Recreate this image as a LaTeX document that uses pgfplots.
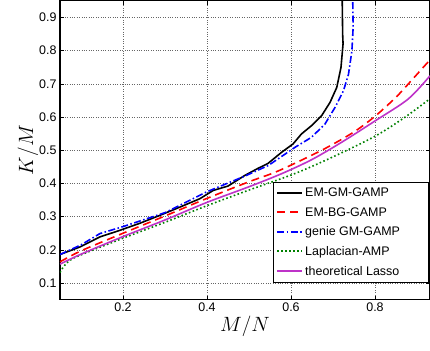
\documentclass[border=0pt]{standalone}
\usepackage{pgfplots}
\pgfplotsset{compat=1.18}
\usepackage{fontspec}
\setmainfont{Liberation Sans}
\definecolor{mgreen}{RGB}{0,128,0}
\definecolor{mmag}{RGB}{190,50,200}
\begin{document}
\begin{tikzpicture}
\begin{axis}[
  scale only axis,
  width=370bp, height=299bp,
  xmin=0.05, xmax=0.931, ymin=0.05, ymax=0.95,
  xtick={0.2,0.4,0.6,0.8}, ytick={0.1,0.2,0.3,0.4,0.5,0.6,0.7,0.8,0.9},
  /pgf/number format/assume math mode=true,
  /pgf/number format/fixed,
  tick label style={font=\fontsize{12.5}{14}\selectfont},
  tick align=inside, major tick length=4bp,
  axis line style={line width=1.4pt},
  tick style={black, line width=0.5pt},
  grid=major,
  major grid style={dotted, black!60, line width=0.5pt},
  xlabel={\fontsize{22}{24}\selectfont $M/N$},
  ylabel={\fontsize{22}{24}\selectfont $K/M$},
  xlabel style={yshift=3bp},
  ylabel style={yshift=-6bp},
  legend cell align=left,
  legend style={at={(0.575,0.395)}, anchor=north west, draw=black, line width=1pt,
    font=\fontsize{12.5}{14}\selectfont, row sep=5.2bp, inner xsep=3bp, inner ysep=4bp},
  legend image code/.code={\draw[#1, sharp plot, line width=2bp] plot coordinates {(0bp,0.3bp) (12.5bp,0.3bp) (25bp,0.3bp)};},
]
\addplot[black, line width=1.6pt] coordinates {
(0.05,0.186)(0.098,0.209)(0.145,0.239)(0.193,0.259)(0.24,0.28)(0.288,0.304)(0.336,0.329)(0.383,0.354)(0.415,0.379)(0.45,0.392)(0.49,0.424)(0.521,0.445)(0.545,0.46)(0.578,0.494)(0.605,0.519)(0.625,0.549)(0.649,0.574)(0.673,0.604)(0.693,0.644)(0.709,0.689)(0.719,0.749)(0.724,0.82)(0.723,0.849)(0.722,0.95)};
\addlegendentry{EM-GM-GAMP}
\addplot[red, line width=1.6pt, dash pattern=on 8bp off 5bp, smooth] coordinates {
(0.05,0.164)(0.1,0.197)(0.2,0.25)(0.3,0.302)(0.4,0.355)(0.5,0.405)(0.555,0.43)(0.6,0.455)(0.681,0.505)(0.75,0.555)(0.8,0.602)(0.844,0.652)(0.864,0.678)(0.931,0.772)};
\addlegendentry{EM-BG-GAMP}
\addplot[blue, line width=1.6pt, dash pattern=on 7bp off 2.5bp on 1.5bp off 2.5bp] coordinates {
(0.05,0.186)(0.1,0.215)(0.145,0.249)(0.2,0.27)(0.3,0.312)(0.4,0.375)(0.49,0.422)(0.546,0.454)(0.61,0.509)(0.649,0.539)(0.681,0.579)(0.705,0.629)(0.725,0.679)(0.737,0.729)(0.745,0.799)(0.748,0.869)(0.747,0.95)};
\addlegendentry{genie GM-GAMP}
\addplot[mgreen, line width=1.6pt, dash pattern=on 1.6bp off 2.4bp, smooth] coordinates {
(0.05,0.132)(0.06,0.152)(0.074,0.169)(0.1,0.185)(0.2,0.235)(0.3,0.283)(0.4,0.333)(0.5,0.38)(0.61,0.43)(0.7,0.48)(0.8,0.542)(0.87,0.598)(0.931,0.655)};
\addlegendentry{Laplacian-AMP}
\addplot[mmag, line width=1.6pt, smooth] coordinates {
(0.05,0.157)(0.1,0.187)(0.2,0.24)(0.3,0.29)(0.4,0.343)(0.5,0.39)(0.579,0.43)(0.65,0.472)(0.722,0.525)(0.8,0.588)(0.879,0.654)(0.931,0.724)};
\addlegendentry{theoretical Lasso\hspace*{24bp}}
\end{axis}
\pgfresetboundingbox
\path (current axis.south west) ++(-60bp,-51bp) coordinate (bl);
\path (current axis.north east) ++(0bp,0.7bp) coordinate (tr);
\path (bl) rectangle (tr);
\end{tikzpicture}
\end{document}
